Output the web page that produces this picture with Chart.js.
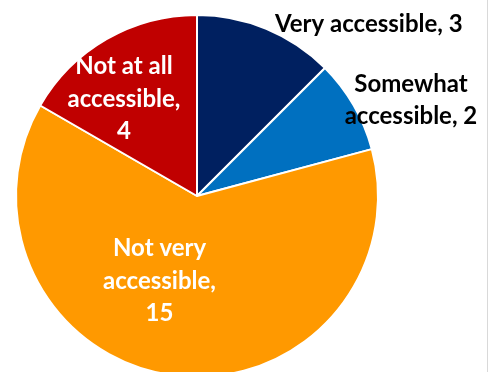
<!DOCTYPE html>
<html>
<head>
<meta charset="utf-8">
<script src="https://cdn.jsdelivr.net/npm/chart.js@4"></script>
<style>
  html, body { margin: 0; padding: 0; background: #fff; overflow: hidden; }
  #wrap { position: relative; width: 490px; height: 372px; overflow: hidden; }
  #edge { position: absolute; left: 487px; top: 0; width: 1px; height: 372px; background: #d9d9d9; }
</style>
</head>
<body>
<div id="wrap">
  <canvas id="pie" width="490" height="382"></canvas>
  <div id="edge"></div>
</div>
<script>
const categories = ["Very accessible", "Somewhat accessible", "Not very accessible", "Not at all accessible"];
const counts = [3, 2, 15, 4];
const sliceColors = ["#002060", "#0070c0", "#ff9900", "#c00000"];

// how each label is broken into lines and where it sits (angle from top, distance / radius)
const labelLines = [
  ["Very accessible, 3"],
  ["Somewhat", "accessible, 2"],
  ["Not very", "accessible,", "15"],
  ["Not at all", "accessible,", "4"]
];
const labelSpots = [
  { angle: 45, dist: 1.343, color: "#000" },
  { angle: 65.9, dist: 1.295, color: "#000" },
  { angle: 203.8, dist: 0.513, color: "#fff" },
  { angle: 323, dist: 0.67, color: "#fff" }
];

const pieLabels = {
  id: "pieLabels",
  afterDatasetsDraw(chart) {
    const ctx = chart.ctx;
    const arcs = chart.getDatasetMeta(0).data;
    ctx.save();
    ctx.font = "bold 24px Lato";
    ctx.textAlign = "center";
    ctx.textBaseline = "middle";
    arcs.forEach((arc, i) => {
      const spot = labelSpots[i];
      const a = (spot.angle - 90) * Math.PI / 180;
      const r = arc.outerRadius * spot.dist;
      const cx = arc.x + Math.cos(a) * r;
      const cy = arc.y + Math.sin(a) * r;
      const lines = labelLines[i];
      const lh = 32.5;
      ctx.fillStyle = spot.color;
      lines.forEach((t, k) => {
        ctx.fillText(t, cx, cy + (k - (lines.length - 1) / 2) * lh);
      });
    });
    ctx.restore();
  }
};

const pieConfig = {
  type: "pie",
  data: {
    labels: categories,
    datasets: [
      {
        data: counts,
        backgroundColor: sliceColors,
        borderColor: "#ffffff",
        borderWidth: 2
      }
    ]
  },
  options: {
    responsive: false,
    animation: false,
    devicePixelRatio: 1,
    layout: { padding: { left: 15, right: 111, top: 14, bottom: 4 } },
    plugins: {
      legend: { display: false },
      tooltip: { enabled: false }
    }
  },
  plugins: [pieLabels]
};

const pieCtx = document.getElementById("pie");
window.myPie = new Chart(pieCtx, pieConfig);
</script>
</body>
</html>
